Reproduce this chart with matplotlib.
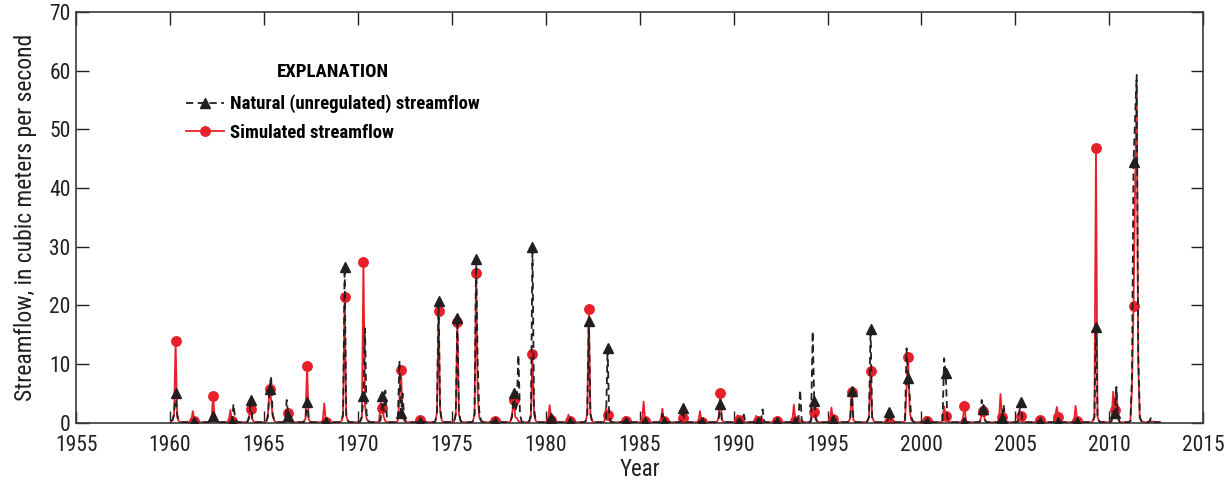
import numpy as np
import matplotlib
matplotlib.use("Agg")
import matplotlib.pyplot as plt

# condensed look like the original; missing names are skipped
plt.rcParams["font.family"] = ["Liberation Sans Narrow", "Roboto Condensed",
                               "Liberation Sans", "DejaVu Sans"]

start_year = 1960
n_months = 53 * 12 - 3  # Jan 1960 .. Sep 2012

# monthly streamflow, m3/s, one row per year (Jan..Dec)
natural = [
    0.3, 0.5, 1.5, 5.0, 1.5, 0.4, 0.2, 0.1, 0.1, 0.1, 0.1, 0.2,    # 1960
    0.1, 0.1, 0.4, 0.2, 0.2, 0.1, 0.1, 0.1, 0.1, 0.1, 0.1, 0.1,    # 1961
    0.1, 0.2, 0.5, 1.2, 0.6, 0.2, 0.1, 0.1, 0.1, 0.1, 0.1, 0.1,    # 1962
    0.1, 0.1, 0.3, 0.2, 3.2, 0.8, 0.2, 0.1, 0.1, 0.1, 0.1, 0.1,    # 1963
    0.1, 0.2, 0.8, 3.9, 0.8, 0.2, 0.1, 0.1, 0.1, 0.1, 0.1, 0.1,    # 1964
    0.1, 0.3, 1.0, 5.7, 8.0, 1.5, 0.5, 0.2, 0.1, 0.1, 0.1, 0.1,    # 1965
    0.1, 0.3, 3.9, 1.2, 0.5, 0.2, 0.1, 0.1, 0.1, 0.1, 0.1, 0.1,    # 1966
    0.1, 0.2, 0.6, 3.6, 0.8, 0.2, 0.1, 0.1, 0.1, 0.1, 0.1, 0.1,    # 1967
    0.1, 0.1, 0.3, 0.2, 0.2, 0.1, 0.1, 0.1, 0.1, 0.1, 0.1, 0.1,    # 1968
    0.1, 0.3, 1.5, 26.6, 1.5, 0.4, 0.1, 0.1, 0.1, 0.1, 0.1, 0.1,   # 1969
    0.1, 0.3, 1.0, 4.6, 16.1, 1.5, 0.4, 0.1, 0.1, 0.1, 0.1, 0.1,   # 1970
    0.1, 0.2, 0.5, 4.6, 2.0, 5.5, 1.0, 0.2, 0.1, 0.1, 0.1, 0.1,    # 1971
    0.1, 0.5, 10.6, 1.6, 5.0, 1.0, 0.3, 0.1, 0.1, 0.1, 0.1, 0.1,   # 1972
    0.1, 0.1, 0.3, 0.2, 0.5, 0.2, 0.1, 0.1, 0.1, 0.1, 0.1, 0.1,    # 1973
    0.1, 0.3, 2.0, 20.8, 2.5, 0.5, 0.2, 0.1, 0.1, 0.1, 0.1, 0.1,   # 1974
    0.1, 0.3, 1.5, 17.8, 2.0, 0.4, 0.1, 0.1, 0.1, 0.1, 0.1, 0.1,   # 1975
    0.1, 0.3, 1.5, 28.0, 10.2, 2.0, 0.5, 0.2, 0.1, 0.1, 0.1, 0.1,  # 1976
    0.1, 0.1, 0.3, 0.2, 0.3, 0.1, 0.1, 0.1, 0.1, 0.1, 0.1, 0.1,    # 1977
    0.1, 0.3, 1.0, 5.1, 2.0, 3.0, 11.6, 1.5, 0.3, 0.1, 0.1, 0.1,   # 1978
    0.1, 0.3, 1.5, 30.0, 2.5, 0.5, 0.2, 0.1, 0.1, 0.1, 0.1, 0.1,   # 1979
    0.1, 0.2, 0.8, 0.8, 0.4, 0.2, 0.1, 0.1, 0.1, 0.1, 0.1, 0.1,    # 1980
    0.1, 0.1, 0.3, 0.2, 0.2, 0.1, 0.1, 0.1, 0.1, 0.1, 0.1, 0.1,    # 1981
    0.1, 0.3, 1.5, 17.4, 1.5, 0.4, 0.1, 0.1, 0.1, 0.1, 0.1, 0.1,   # 1982
    0.1, 0.2, 0.5, 12.7, 1.0, 0.3, 0.1, 0.1, 0.1, 0.1, 0.1, 0.1,   # 1983
    0.1, 0.1, 0.3, 0.2, 0.2, 0.1, 0.1, 0.1, 0.1, 0.1, 0.1, 0.1,    # 1984
    0.1, 0.1, 0.3, 0.2, 0.2, 0.1, 0.1, 0.1, 0.1, 0.1, 0.1, 0.1,    # 1985
    0.1, 0.3, 1.5, 0.2, 0.3, 0.1, 0.1, 0.1, 0.1, 0.1, 0.1, 0.1,    # 1986
    0.1, 0.1, 0.3, 2.6, 0.4, 0.1, 0.1, 0.1, 0.1, 0.1, 0.1, 0.1,    # 1987
    0.1, 0.1, 0.3, 0.2, 0.2, 0.1, 0.1, 0.1, 0.1, 0.1, 0.1, 0.1,    # 1988
    0.1, 0.2, 0.8, 3.2, 0.5, 0.2, 0.1, 0.1, 0.1, 0.1, 0.1, 0.1,    # 1989
    0.1, 0.2, 0.5, 0.2, 0.2, 0.3, 1.4, 0.2, 0.1, 0.1, 0.1, 0.1,    # 1990
    0.1, 0.1, 0.3, 0.2, 0.2, 0.4, 2.3, 0.3, 0.1, 0.1, 0.1, 0.1,    # 1991
    0.1, 0.1, 0.3, 0.2, 0.2, 0.1, 0.1, 0.1, 0.1, 0.1, 0.1, 0.1,    # 1992
    0.1, 0.1, 0.3, 0.2, 0.3, 1.0, 5.6, 0.5, 0.1, 0.1, 0.1, 0.1,    # 1993
    0.1, 0.5, 15.6, 3.8, 0.8, 0.2, 0.1, 0.1, 0.1, 0.1, 0.1, 0.1,   # 1994
    0.1, 0.2, 0.8, 0.5, 0.3, 0.1, 0.1, 0.1, 0.1, 0.1, 0.1, 0.1,    # 1995
    0.1, 0.2, 0.8, 5.5, 0.5, 0.2, 0.1, 0.1, 0.1, 0.1, 0.1, 0.1,    # 1996
    0.1, 0.3, 1.0, 16.0, 1.0, 0.3, 0.1, 0.1, 0.1, 0.1, 0.1, 0.1,   # 1997
    0.1, 0.2, 0.5, 1.9, 0.4, 0.1, 0.1, 0.1, 0.1, 0.1, 0.1, 0.1,    # 1998
    0.1, 0.5, 12.7, 7.6, 4.5, 1.0, 0.3, 0.1, 0.1, 0.1, 0.1, 0.1,   # 1999
    0.1, 0.1, 0.3, 0.2, 0.2, 0.1, 0.1, 0.1, 0.1, 0.1, 0.1, 0.1,    # 2000
    0.1, 0.5, 11.0, 8.5, 1.0, 0.3, 0.1, 0.1, 0.1, 0.1, 0.1, 0.1,   # 2001
    0.1, 0.1, 0.3, 0.2, 0.2, 0.1, 0.1, 0.1, 0.1, 0.1, 0.1, 0.1,    # 2002
    0.1, 0.3, 3.9, 2.3, 0.5, 0.1, 0.1, 0.1, 0.1, 0.1, 0.1, 0.1,    # 2003
    0.1, 0.1, 0.5, 0.8, 3.1, 0.4, 0.1, 0.1, 0.1, 0.1, 0.1, 0.1,    # 2004
    0.1, 0.2, 1.8, 3.5, 0.4, 0.1, 0.1, 0.1, 0.1, 0.1, 0.1, 0.1,    # 2005
    0.1, 0.1, 0.3, 0.2, 0.2, 0.1, 0.1, 0.1, 0.1, 0.1, 0.1, 0.1,    # 2006
    0.1, 0.1, 0.3, 0.2, 0.2, 0.1, 0.1, 0.1, 0.1, 0.1, 0.1, 0.1,    # 2007
    0.1, 0.1, 0.3, 0.2, 0.2, 0.1, 0.1, 0.1, 0.1, 0.1, 0.1, 0.1,    # 2008
    0.1, 0.3, 1.0, 16.4, 1.0, 0.3, 0.1, 0.1, 0.1, 0.1, 0.1, 0.1,   # 2009
    0.1, 0.3, 2.0, 1.6, 6.1, 1.0, 0.2, 0.1, 0.1, 0.1, 0.1, 0.1,    # 2010
    0.1, 0.3, 8.0, 44.5, 52.0, 59.3, 12.0, 1.0, 0.3, 0.2, 0.1, 0.1, # 2011
    0.1, 0.2, 0.8, 0.3, 0.2, 0.1, 0.1, 0.1, 0.1,                   # 2012
]

simulated = [
    0.2, 0.4, 1.2, 13.9, 1.0, 0.3, 0.1, 0.1, 0.1, 0.1, 0.1, 0.1,   # 1960
    0.1, 0.3, 2.0, 0.3, 0.1, 0.1, 0.1, 0.1, 0.1, 0.1, 0.1, 0.1,    # 1961
    0.1, 0.2, 0.8, 4.5, 0.6, 0.2, 0.1, 0.1, 0.1, 0.1, 0.1, 0.1,    # 1962
    0.1, 0.3, 2.2, 0.3, 0.5, 0.2, 0.1, 0.1, 0.1, 0.1, 0.1, 0.1,    # 1963
    0.1, 0.3, 1.2, 2.4, 0.6, 0.2, 0.1, 0.1, 0.1, 0.1, 0.1, 0.1,    # 1964
    0.1, 0.3, 1.5, 5.7, 4.0, 1.2, 0.4, 0.1, 0.1, 0.1, 0.1, 0.1,    # 1965
    0.1, 0.2, 1.0, 1.6, 0.5, 0.2, 0.1, 0.1, 0.1, 0.1, 0.1, 0.1,    # 1966
    0.1, 0.2, 0.8, 9.6, 0.6, 0.2, 0.1, 0.1, 0.1, 0.1, 0.1, 0.1,    # 1967
    0.1, 0.3, 3.3, 0.2, 0.2, 0.1, 0.1, 0.1, 0.1, 0.1, 0.1, 0.1,    # 1968
    0.1, 0.3, 1.2, 21.5, 1.2, 0.4, 0.1, 0.1, 0.1, 0.1, 0.1, 0.1,   # 1969
    0.1, 0.3, 1.0, 27.4, 3.0, 0.8, 0.2, 0.1, 0.1, 0.1, 0.1, 0.1,   # 1970
    0.1, 0.3, 3.4, 2.5, 1.0, 0.3, 0.1, 0.1, 0.1, 0.1, 0.1, 0.1,    # 1971
    0.1, 0.4, 4.0, 9.0, 1.5, 0.4, 0.1, 0.1, 0.1, 0.1, 0.1, 0.1,    # 1972
    0.1, 0.2, 0.8, 0.5, 0.2, 0.1, 0.1, 0.1, 0.1, 0.1, 0.1, 0.1,    # 1973
    0.1, 0.3, 1.8, 19.0, 2.0, 0.5, 0.1, 0.1, 0.1, 0.1, 0.1, 0.1,   # 1974
    0.1, 0.3, 1.5, 17.2, 1.5, 0.4, 0.1, 0.1, 0.1, 0.1, 0.1, 0.1,   # 1975
    0.1, 0.3, 1.5, 25.6, 4.5, 1.0, 0.3, 0.1, 0.1, 0.1, 0.1, 0.1,   # 1976
    0.1, 0.2, 0.8, 0.3, 0.2, 0.1, 0.1, 0.1, 0.1, 0.1, 0.1, 0.1,    # 1977
    0.1, 0.3, 1.5, 3.9, 1.0, 0.8, 0.3, 0.1, 0.1, 0.1, 0.1, 0.1,    # 1978
    0.1, 0.3, 1.0, 11.7, 1.5, 0.4, 0.1, 0.1, 0.1, 0.1, 0.1, 0.1,   # 1979
    0.1, 0.4, 3.0, 0.5, 0.3, 0.1, 0.1, 0.1, 0.1, 0.1, 0.1, 0.1,    # 1980
    0.1, 0.3, 1.4, 0.3, 0.2, 0.1, 0.1, 0.1, 0.1, 0.1, 0.1, 0.1,    # 1981
    0.1, 0.3, 1.5, 19.4, 1.5, 0.4, 0.1, 0.1, 0.1, 0.1, 0.1, 0.1,   # 1982
    0.1, 0.3, 2.6, 1.3, 0.5, 0.2, 0.1, 0.1, 0.1, 0.1, 0.1, 0.1,    # 1983
    0.1, 0.2, 1.0, 0.3, 0.2, 0.1, 0.1, 0.1, 0.1, 0.1, 0.1, 0.1,    # 1984
    0.1, 0.3, 3.6, 0.3, 0.2, 0.1, 0.1, 0.1, 0.1, 0.1, 0.1, 0.1,    # 1985
    0.1, 0.3, 2.4, 0.3, 0.2, 0.1, 0.1, 0.1, 0.1, 0.1, 0.1, 0.1,    # 1986
    0.1, 0.2, 0.5, 0.9, 0.3, 0.1, 0.1, 0.1, 0.1, 0.1, 0.1, 0.1,    # 1987
    0.1, 0.3, 2.0, 0.2, 0.2, 0.1, 0.1, 0.1, 0.1, 0.1, 0.1, 0.1,    # 1988
    0.1, 0.2, 1.0, 5.1, 0.5, 0.2, 0.1, 0.1, 0.1, 0.1, 0.1, 0.1,    # 1989
    0.1, 0.3, 1.3, 0.5, 0.2, 0.1, 0.1, 0.1, 0.1, 0.1, 0.1, 0.1,    # 1990
    0.1, 0.3, 1.2, 0.3, 0.2, 0.1, 0.1, 0.1, 0.1, 0.1, 0.1, 0.1,    # 1991
    0.1, 0.2, 0.6, 0.3, 0.2, 0.1, 0.1, 0.1, 0.1, 0.1, 0.1, 0.1,    # 1992
    0.1, 0.3, 3.1, 0.3, 0.2, 0.1, 0.1, 0.1, 0.1, 0.1, 0.1, 0.1,    # 1993
    0.1, 0.3, 2.0, 1.8, 0.5, 0.2, 0.1, 0.1, 0.1, 0.1, 0.1, 0.1,    # 1994
    0.1, 0.3, 2.6, 0.6, 0.3, 0.1, 0.1, 0.1, 0.1, 0.1, 0.1, 0.1,    # 1995
    0.1, 0.2, 0.8, 5.3, 0.5, 0.2, 0.1, 0.1, 0.1, 0.1, 0.1, 0.1,    # 1996
    0.1, 0.3, 1.0, 8.9, 1.0, 0.3, 0.1, 0.1, 0.1, 0.1, 0.1, 0.1,    # 1997
    0.1, 0.2, 0.8, 0.2, 0.2, 0.1, 0.1, 0.1, 0.1, 0.1, 0.1, 0.1,    # 1998
    0.1, 0.4, 6.0, 11.3, 2.0, 0.5, 0.2, 0.1, 0.1, 0.1, 0.1, 0.1,   # 1999
    0.1, 0.3, 1.0, 0.3, 0.2, 0.1, 0.1, 0.1, 0.1, 0.1, 0.1, 0.1,    # 2000
    0.1, 0.3, 2.8, 1.2, 0.5, 0.2, 0.1, 0.1, 0.1, 0.1, 0.1, 0.1,    # 2001
    0.1, 0.2, 0.8, 2.8, 0.3, 0.1, 0.1, 0.1, 0.1, 0.1, 0.1, 0.1,    # 2002
    0.1, 0.3, 1.5, 2.0, 0.5, 0.1, 0.1, 0.1, 0.1, 0.1, 0.1, 0.1,    # 2003
    0.1, 0.4, 4.9, 1.0, 0.8, 0.2, 0.1, 0.1, 0.1, 0.1, 0.1, 0.1,    # 2004
    0.1, 0.2, 0.5, 1.1, 0.4, 0.1, 0.1, 0.1, 0.1, 0.1, 0.1, 0.1,    # 2005
    0.1, 0.2, 1.0, 0.5, 0.2, 0.1, 0.1, 0.1, 0.1, 0.1, 0.1, 0.1,    # 2006
    0.1, 1.2, 2.7, 1.0, 0.3, 0.1, 0.1, 0.1, 0.1, 0.1, 0.1, 0.1,    # 2007
    0.1, 0.3, 2.9, 0.3, 0.2, 0.1, 0.1, 0.1, 0.1, 0.1, 0.1, 0.1,    # 2008
    0.1, 0.3, 1.0, 46.9, 1.0, 0.3, 0.1, 0.1, 0.1, 0.1, 0.1, 0.1,   # 2009
    0.1, 0.5, 5.3, 2.2, 6.1, 0.8, 0.2, 0.1, 0.1, 0.1, 0.1, 0.1,    # 2010
    0.1, 0.3, 6.0, 19.9, 40.0, 57.8, 10.0, 0.8, 0.3, 0.2, 0.1, 0.1, # 2011
    0.1, 0.2, 0.3, 0.2, 0.2, 0.1, 0.1, 0.1, 0.1,                   # 2012
]

months = np.arange(n_months)
t = start_year + (months + 0.5) / 12.0
april = list(range(3, 52 * 12, 12))  # symbols on April of 1960-2011

red = "#e8202a"
blk = "#231f20"

fig = plt.figure(figsize=(12.29, 4.86), dpi=100)
ax = fig.add_axes([0.062, 0.13, 0.917, 0.845])

ax.plot(t, simulated, color=red, lw=1.3, marker="o", ms=6.8,
        markevery=april, mec=red, mfc=red, label="Simulated streamflow", zorder=2)
ax.plot(t, natural, color=blk, lw=1.3, ls=(0, (4, 2.5)), marker="^", ms=7.5,
        markevery=april, mec=blk, mfc=blk,
        label="Natural (unregulated) streamflow", zorder=3)

ax.set_xlim(1955, 2015)
ax.set_ylim(0, 70)
ax.set_xticks(np.arange(1955, 2016, 5))
ax.set_yticks(np.arange(0, 71, 10))
ax.tick_params(direction="in", length=9, width=1, top=True, right=True,
               labelsize=15.5, colors=blk)
ax.tick_params(axis="x", pad=9)
ax.tick_params(axis="y", pad=4)
for s in ax.spines.values():
    s.set_linewidth(1.2)
    s.set_color("#3a3a3a")

ax.set_xlabel("Year", fontsize=16.5, color=blk, labelpad=1)
ax.set_ylabel("Streamflow, in cubic meters per second", fontsize=17,
              color=blk, labelpad=9)

h, l = ax.get_legend_handles_labels()
leg = ax.legend(h[::-1], l[::-1], title="EXPLANATION", loc="upper left",
                bbox_to_anchor=(0.091, 0.895), frameon=False, handlelength=2.0,
                handletextpad=0.35, labelspacing=0.55, borderaxespad=0,
                prop={"weight": "bold", "size": 13.5})
leg.get_title().set_fontweight("bold")
leg.get_title().set_fontsize(13.5)
leg._legend_box.align = "center"
leg._legend_box.sep = 10

fig.savefig("out.png", dpi=100)
